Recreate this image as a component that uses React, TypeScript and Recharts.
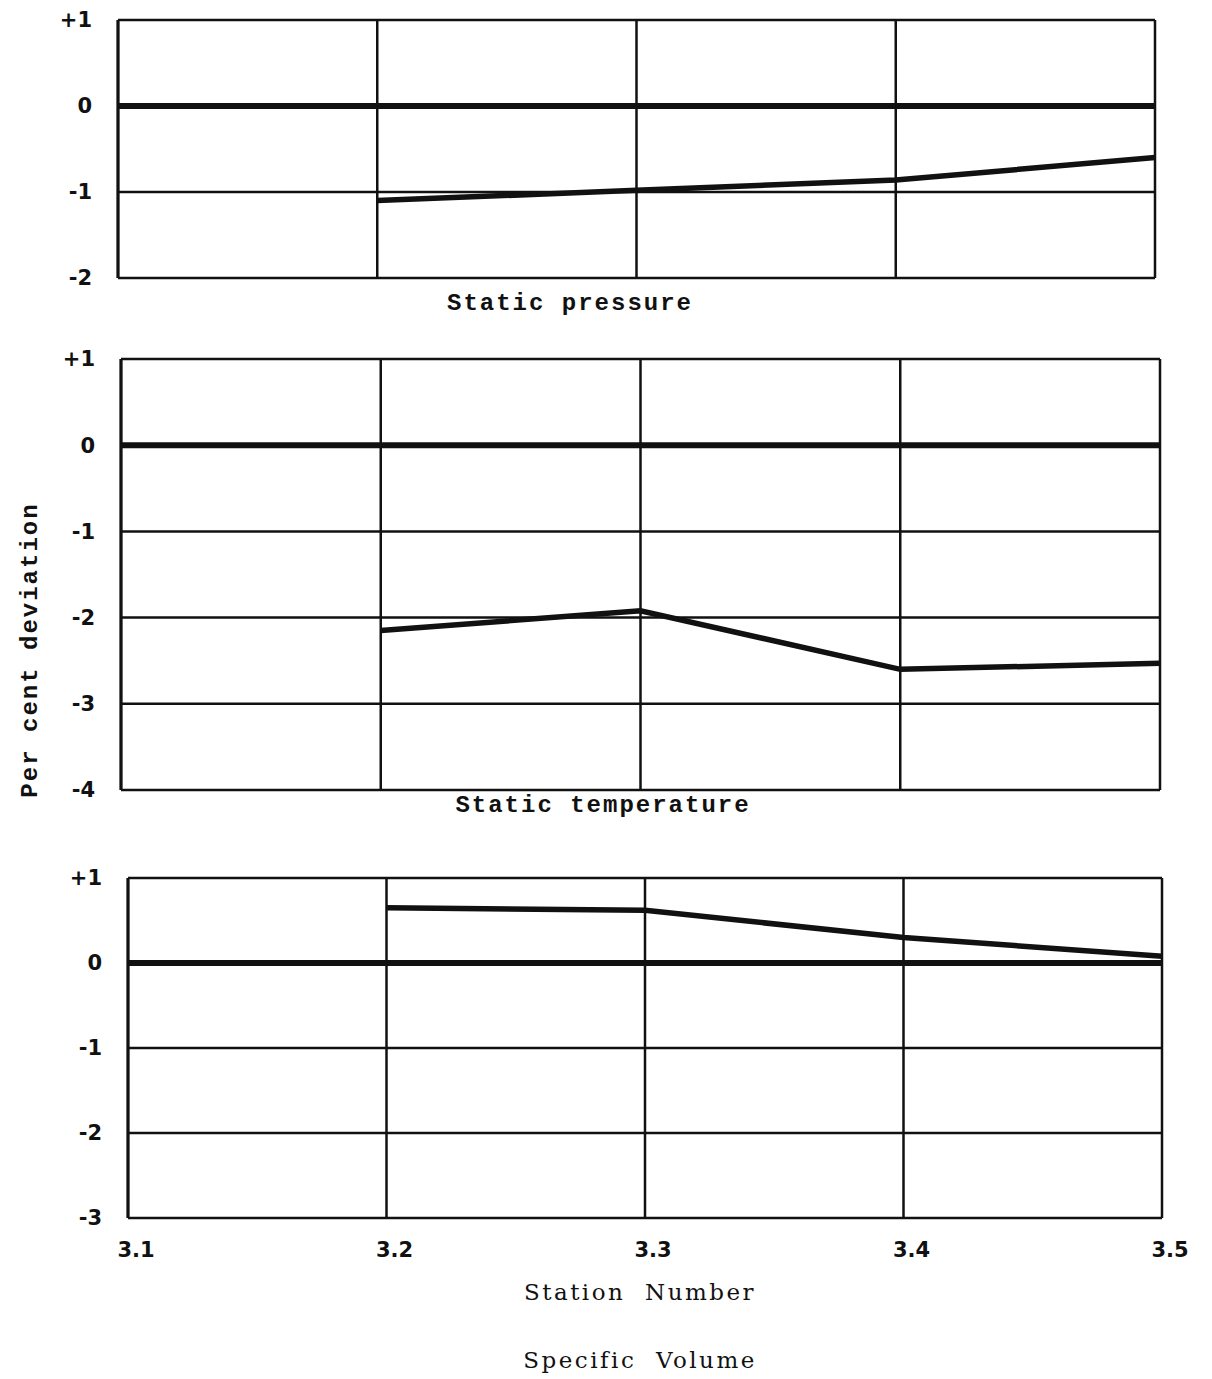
import React from "react";
import { CartesianGrid, Line, LineChart, ReferenceLine, XAxis, YAxis } from "recharts";

const stations = [3.1, 3.2, 3.3, 3.4, 3.5];
const pressureDev = [null, -1.1, -0.98, -0.86, -0.6];
const temperatureDev = [null, -2.15, -1.92, -2.6, -2.53];
const volumeDev = [null, 0.65, 0.62, 0.3, 0.08];

const pressureTicks = [-2, -1, 0, 1];
const temperatureTicks = [-4, -3, -2, -1, 0, 1];
const volumeTicks = [-3, -2, -1, 0, 1];

const INK = "#111";
const tickFont = { fontFamily: "DejaVu Sans", fontWeight: 700, fontSize: 21, fill: INK };

const fmtDev = (v: number) => (v > 0 ? `+${v}` : `${v}`);

interface PanelProps {
  values: (number | null)[];
  ticks: number[];
  top: number;
  height: number;
  plotLeft: number;
  plotRight: number;
  marginTop: number;
  marginBottom: number;
  showStations?: boolean;
}

function Panel({ values, ticks, top, height, plotLeft, plotRight, marginTop, marginBottom, showStations }: PanelProps) {
  const rows = stations.map((s, i) => ({ station: s, dev: values[i] }));
  return (
    <div style={{ position: "absolute", left: 0, top }}>
      <LineChart
        width={1212}
        height={height}
        data={rows}
        margin={{ top: marginTop, right: 1212 - plotRight, bottom: marginBottom, left: 0 }}
      >
        <CartesianGrid stroke={INK} strokeWidth={2.5} />
        <XAxis
          dataKey="station"
          type="number"
          domain={[3.1, 3.5]}
          ticks={stations}
          height={showStations ? 40 : 1}
          axisLine={false}
          tickLine={false}
          tickSize={0}
          tickMargin={24}
          tick={{ ...tickFont, dx: 8 }}
          tickFormatter={(v: number) => (showStations ? v.toFixed(1) : "")}
        />
        <YAxis
          type="number"
          domain={[ticks[0], ticks[ticks.length - 1]]}
          ticks={ticks}
          width={plotLeft}
          axisLine={{ stroke: INK, strokeWidth: 3 }}
          tickLine={false}
          tickSize={0}
          tickMargin={26}
          tick={tickFont}
          tickFormatter={fmtDev}
        />
        <ReferenceLine y={0} stroke={INK} strokeWidth={6} />
        <Line
          dataKey="dev"
          type="linear"
          stroke={INK}
          strokeWidth={5.5}
          dot={false}
          connectNulls={false}
          isAnimationActive={false}
        />
      </LineChart>
    </div>
  );
}

const caption: React.CSSProperties = {
  position: "absolute",
  fontFamily: "Liberation Mono",
  fontWeight: 700,
  fontSize: 24,
  letterSpacing: 2,
  color: INK,
  whiteSpace: "pre",
  transform: "translate(-50%, -50%)",
};

const footer: React.CSSProperties = {
  ...caption,
  fontFamily: "DejaVu Serif",
  fontWeight: 400,
  fontSize: 23,
  letterSpacing: 2.5,
};

export default function App() {
  return (
    <div style={{ position: "absolute", left: 0, top: 0, width: 1212, height: 1379, background: "#fff" }}>
      <Panel values={pressureDev} ticks={pressureTicks} top={0} height={300}
        plotLeft={118} plotRight={1155} marginTop={20} marginBottom={21} />
      <div style={{ ...caption, left: 570, top: 303 }}>Static pressure</div>

      <Panel values={temperatureDev} ticks={temperatureTicks} top={340} height={470}
        plotLeft={121} plotRight={1160} marginTop={19} marginBottom={19} />
      <div style={{ ...caption, left: 603, top: 805 }}>Static temperature</div>

      <Panel values={volumeDev} ticks={volumeTicks} top={860} height={420}
        plotLeft={128} plotRight={1162} marginTop={18} marginBottom={22} showStations />

      <div style={{ ...footer, left: 640, top: 1292 }}>Station  Number</div>
      <div style={{ ...footer, left: 640, top: 1360 }}>Specific  Volume</div>

      <div
        style={{
          ...caption,
          fontSize: 24,
          letterSpacing: 2,
          left: 30,
          top: 650,
          transform: "translate(-50%, -50%) rotate(-90deg)",
        }}
      >
        Per cent deviation
      </div>
    </div>
  );
}
